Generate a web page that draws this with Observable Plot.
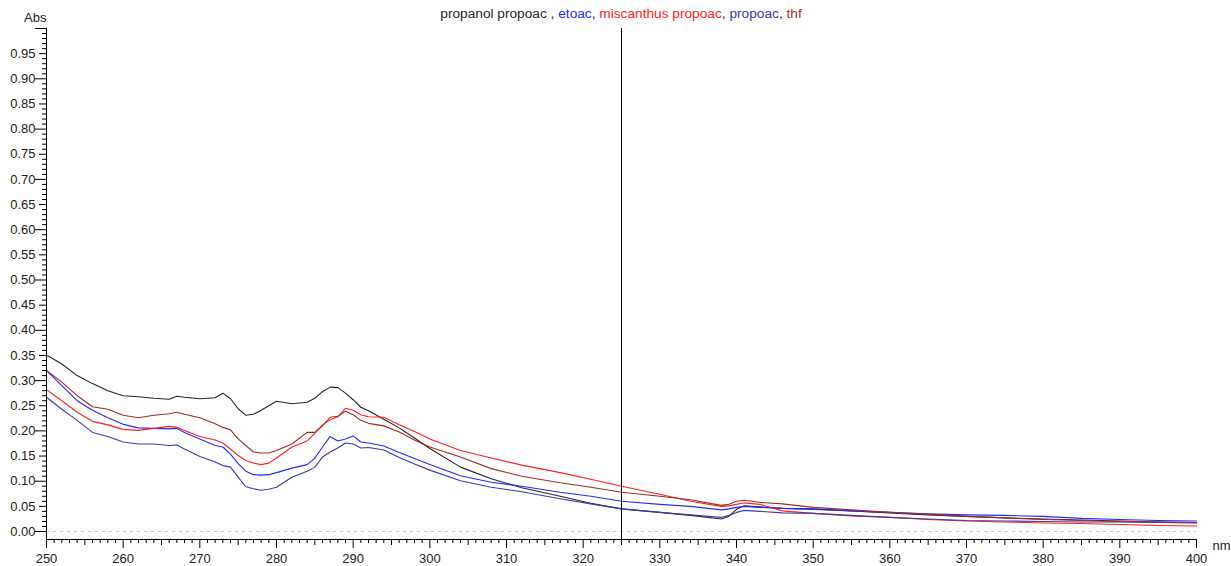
<!DOCTYPE html>
<html><head><meta charset="utf-8">
<script src="https://cdn.jsdelivr.net/npm/d3@7"></script>
<script src="https://cdn.jsdelivr.net/npm/@observablehq/plot@0.6"></script>
<style>
body{margin:0;background:#fff;font-family:"Liberation Sans",Arial,sans-serif;}
#wrap{position:relative;width:1231px;height:566px;overflow:hidden;}
#title{position:absolute;top:6px;left:0;width:1242px;text-align:center;font-size:13.7px;line-height:16px;color:#222;white-space:nowrap;}
</style></head>
<body>
<div id="wrap"><div id="title"></div></div>
<script>
const nm = [250,252,254,256,258,260,262,264,266,267,268,270,272,273,274,275,276,277,278,279,280,282,284,285,286,287,288,289,290,291,292,294,296,298,300,304,308,312,317,321,325,330,334,338,339,340,341,343,346,350,355,360,365,370,375,380,385,390,395,400];
const propanolPropoac = [.351,.333,.310,.294,.280,.270,.268,.265,.263,.269,.267,.264,.266,.275,.264,.244,.231,.233,.241,.250,.259,.254,.257,.265,.278,.287,.286,.275,.262,.247,.240,.223,.206,.186,.165,.128,.105,.087,.070,.056,.045,.038,.032,.025,.030,.044,.051,.049,.046,.045,.041,.037,.033,.030,.027,.025,.023,.021,.019,.018];
const etoac = [.320,.290,.260,.241,.226,.213,.206,.205,.204,.205,.197,.184,.171,.168,.154,.135,.120,.113,.112,.113,.117,.126,.133,.146,.168,.189,.180,.184,.190,.178,.176,.170,.157,.145,.133,.111,.098,.090,.078,.070,.060,.054,.050,.043,.045,.048,.050,.048,.046,.044,.041,.038,.035,.033,.032,.030,.026,.024,.022,.021];
const miscanthusPropoac = [.282,.260,.237,.219,.212,.203,.201,.205,.209,.207,.201,.189,.182,.176,.164,.151,.141,.136,.133,.136,.146,.168,.180,.195,.212,.222,.228,.245,.241,.232,.228,.227,.212,.199,.184,.161,.146,.132,.117,.104,.090,.074,.060,.050,.051,.054,.057,.054,.041,.036,.031,.028,.024,.021,.019,.017,.016,.014,.012,.011];
const propoac = [.267,.243,.221,.197,.189,.178,.174,.174,.171,.172,.164,.149,.138,.131,.128,.108,.089,.085,.082,.084,.088,.108,.120,.128,.148,.158,.166,.176,.174,.166,.167,.162,.147,.134,.122,.101,.088,.079,.065,.055,.045,.038,.033,.028,.032,.038,.042,.040,.037,.036,.032,.028,.025,.022,.021,.020,.019,.019,.018,.017];
const thf = [.320,.297,.270,.248,.243,.231,.226,.231,.234,.237,.233,.226,.214,.207,.202,.184,.171,.158,.156,.156,.161,.174,.197,.197,.210,.227,.229,.239,.232,.221,.215,.210,.198,.182,.168,.148,.125,.110,.097,.088,.078,.070,.063,.052,.054,.060,.062,.058,.055,.048,.043,.038,.034,.030,.027,.024,.022,.020,.019,.018];

const seriesNames = ["propanol propoac ", "etoac", "miscanthus propoac", "propoac", "thf"];
const seriesColors = ["#262626", "#2828ff", "#ff2020", "#3c3ca8", "#9e2c2c"];
const seriesValues = [propanolPropoac, etoac, miscanthusPropoac, propoac, thf];

const xTickLabels = [250,260,270,280,290,300,310,320,330,340,350,360,370,380,390,400];
const yTickLabels = [0.00,0.05,0.10,0.15,0.20,0.25,0.30,0.35,0.40,0.45,0.50,0.55,0.60,0.65,0.70,0.75,0.80,0.85,0.90,0.95];
const cursorNm = 325;
const yBottom = -0.0159;

const table = [];
seriesNames.forEach((s, i) => nm.forEach((w, j) => table.push({series: s, nm: w, abs: seriesValues[i][j]})));

const title = document.getElementById("title");
seriesNames.forEach((s, i) => {
  const sp = document.createElement("span");
  sp.textContent = s; sp.style.color = seriesColors[i];
  title.appendChild(sp);
  if (i < seriesNames.length - 1) { const c = document.createElement("span"); c.textContent = ", "; c.style.color = "#222"; title.appendChild(c); }
});

const xMid = d3.range(255, 400, 10);
const xMinor = d3.range(250, 401, 1).filter(d => d % 5 !== 0);
const yTen = yTickLabels.filter((d, i) => i % 2 === 0).concat([1.0]);
const yFive = yTickLabels.filter((d, i) => i % 2 === 1);
const yMinor = d3.range(0, 100, 1).filter(d => d % 5 !== 0).map(d => d / 100);

const chart = Plot.plot({
  width: 1231, height: 566,
  marginLeft: 46, marginRight: 35, marginTop: 28, marginBottom: 27,
  x: {domain: [250, 400]},
  y: {domain: [yBottom, 1]},
  color: {domain: seriesNames, range: seriesColors},
  style: {fontFamily: "Liberation Sans, Arial, sans-serif", fontSize: "13px", color: "#222", background: "white"},
  marks: [
    Plot.ruleY([0], {stroke: "#c8c8b8", strokeDasharray: "3,4"}),
    Plot.line(table, {x: "nm", y: "abs", z: "series", stroke: "series", strokeWidth: 1.1}),
    Plot.ruleX([cursorNm], {stroke: "black"}),
    Plot.ruleX([250], {stroke: "black"}),
    Plot.ruleY([yBottom], {stroke: "black"}),
    Plot.axisX({ticks: xTickLabels, tickSize: 9, tickPadding: 5, tickFormat: d => String(d), label: null, stroke: "black"}),
    Plot.axisX({ticks: xMid, tickSize: 6, tickFormat: () => "", label: null, stroke: "black"}),
    Plot.axisX({ticks: xMinor, tickSize: 4, tickFormat: () => "", label: null, stroke: "black"}),
    Plot.axisY({ticks: yTickLabels, tickSize: 0, tickPadding: 11, tickFormat: d3.format(".2f"), label: null}),
    Plot.axisY({ticks: yTen, tickSize: 11, tickFormat: () => "", label: null, stroke: "black"}),
    Plot.axisY({ticks: yFive, tickSize: 7, tickFormat: () => "", label: null, stroke: "black"}),
    Plot.axisY({ticks: yMinor, tickSize: 4, tickFormat: () => "", label: null, stroke: "black"}),
    Plot.text(["Abs"], {frameAnchor: "top-left", dx: 0, dy: -16, textAnchor: "end"}),
    Plot.text(["nm"], {frameAnchor: "bottom-right", dx: 16, dy: 10, textAnchor: "start"})
  ]
});
document.getElementById("wrap").insertBefore(chart, document.getElementById("title"));
</script>
</body></html>
